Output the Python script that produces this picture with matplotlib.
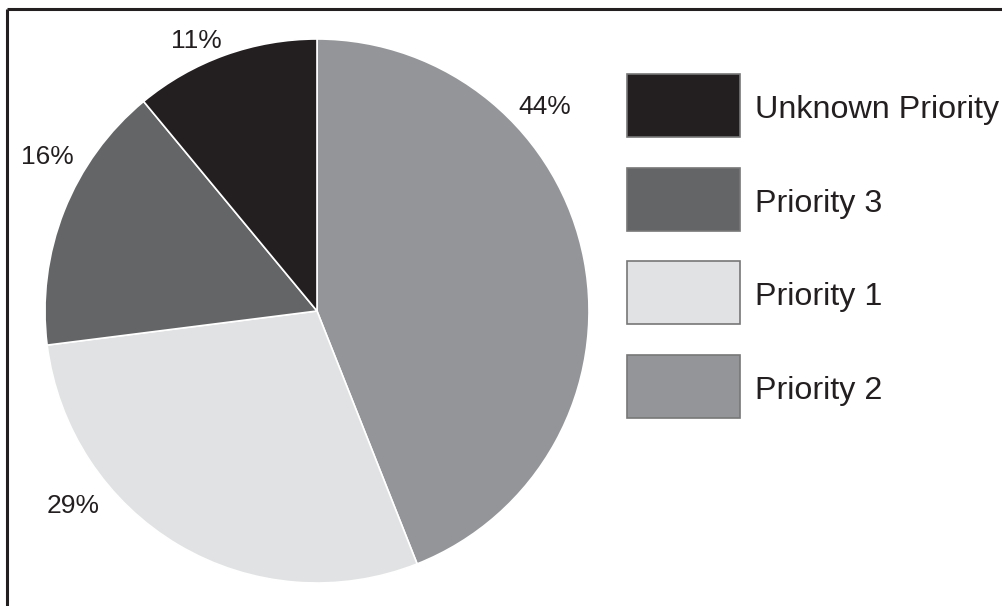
import matplotlib.pyplot as plt
from matplotlib.patches import Rectangle

plt.rcParams['font.family'] = ['Liberation Sans', 'DejaVu Sans']

# Share of items by priority, drawn clockwise from 12 o'clock
categories = ['Priority 2', 'Priority 1', 'Priority 3', 'Unknown Priority']
shares = [44, 29, 16, 11]
colors = ['#939598', '#e1e2e3', '#646567', '#231f20']

# legend order (top to bottom)
legend_order = ['Unknown Priority', 'Priority 3', 'Priority 1', 'Priority 2']

W, H = 1003, 606
fig = plt.figure(figsize=(W / 100, H / 100), dpi=100)
ax = fig.add_axes([0, 0, 1, 1])

# pixel helpers (y measured from the top)
def py(y):
    return H - y

ax.pie(shares, colors=colors, startangle=90, counterclock=False,
       center=(317, py(311)), radius=272, frame=True,
       wedgeprops=dict(edgecolor='white', linewidth=1.2))
ax.set_xlim(0, W)
ax.set_ylim(0, H)
ax.axis('off')

# percentage labels placed around the rim
label_pos = {'Priority 2': (545, 107), 'Priority 1': (73, 506),
             'Priority 3': (47, 157), 'Unknown Priority': (196, 41)}
for cat, val in zip(categories, shares):
    x, y = label_pos[cat]
    ax.text(x, py(y), f'{val}%', fontsize=19, color='#231f20',
            ha='center', va='center')

# hand-drawn legend
box_x, box_w, box_h = 627, 113, 63
box_tops = [74, 168, 261, 355]
for cat, top in zip(legend_order, box_tops):
    c = colors[categories.index(cat)]
    ax.add_patch(Rectangle((box_x, py(top + box_h)), box_w, box_h,
                           facecolor=c, edgecolor='#777777', linewidth=1.2))
    ax.text(755, py(top + box_h / 2 + 4), cat, fontsize=23.2,
            color='#231f20', ha='left', va='center')

# frame along the top and left edges
ax.plot([7, W], [py(9), py(9)], color='#231f20', linewidth=2.2,
        solid_capstyle='butt')
ax.plot([7, 7], [py(9), 0], color='#231f20', linewidth=2.2,
        solid_capstyle='butt')

fig.savefig('out.png', dpi=100)
